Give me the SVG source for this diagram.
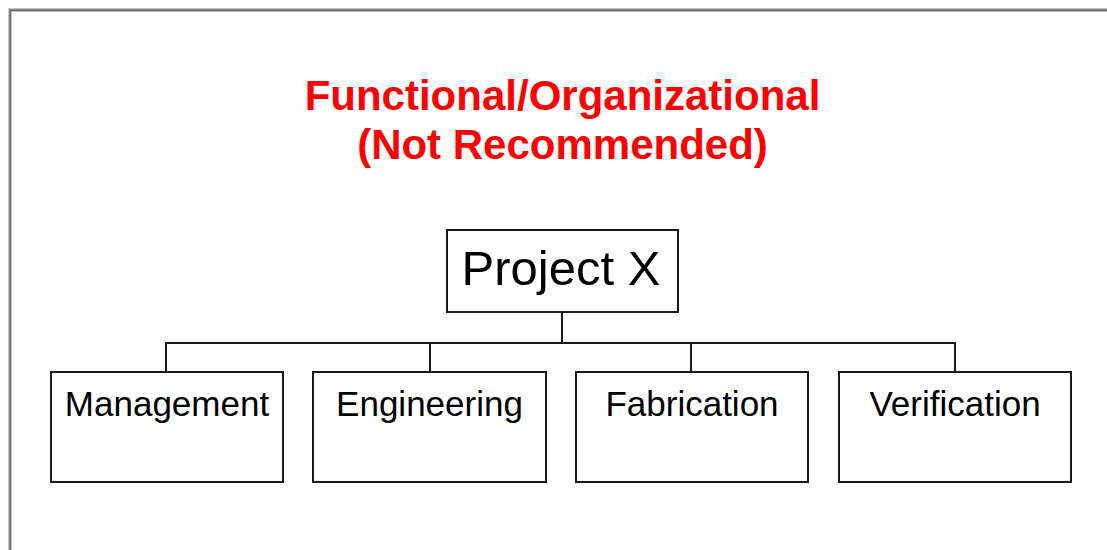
<svg xmlns="http://www.w3.org/2000/svg" width="1107" height="550" viewBox="0 0 1107 550">
  <style>
    .box { fill: #ffffff; stroke: #1a1a1a; stroke-width: 2; }
    .lbl { font-family: "Liberation Sans", Arial, sans-serif; font-size: 35px; fill: #000000; text-anchor: middle; }
    .title { font-family: "Liberation Sans", Arial, sans-serif; font-size: 42px; font-weight: bold; fill: #ff0000; text-anchor: middle; }
    .conn { fill: none; stroke: #1a1a1a; stroke-width: 2; }
  </style>
  <rect x="0" y="0" width="1107" height="550" fill="#ffffff"/>
  <path d="M10,550 V10 H1107" fill="none" stroke="#8a8a8a" stroke-width="3"/>
  <path d="M10.5,550 V10.5 H1107" fill="none" stroke="#666666" stroke-width="1"/>
  <g id="title">
    <text class="title" x="562.5" y="110">Functional/Organizational</text>
    <text class="title" x="562.5" y="159">(Not Recommended)</text>
  </g>
  <g id="connectors">
    <path class="conn" d="M562,312 V343"/>
    <path class="conn" d="M166,372 V343 H955 V372"/>
    <path class="conn" d="M430,343 V372"/>
    <path class="conn" d="M691,343 V372"/>
  </g>
  <g id="project-x">
    <rect class="box" x="447" y="230" width="231" height="82"/>
    <text class="lbl" x="561" y="285" style="font-size:49px">Project X</text>
  </g>
  <g id="management">
    <rect class="box" x="51" y="372" width="232" height="110"/>
    <text class="lbl" x="167" y="416">Management</text>
  </g>
  <g id="engineering">
    <rect class="box" x="313" y="372" width="233" height="110"/>
    <text class="lbl" x="429.5" y="416">Engineering</text>
  </g>
  <g id="fabrication">
    <rect class="box" x="576" y="372" width="232" height="110"/>
    <text class="lbl" x="692" y="416">Fabrication</text>
  </g>
  <g id="verification">
    <rect class="box" x="839" y="372" width="232" height="110"/>
    <text class="lbl" x="955" y="416">Verification</text>
  </g>
</svg>
